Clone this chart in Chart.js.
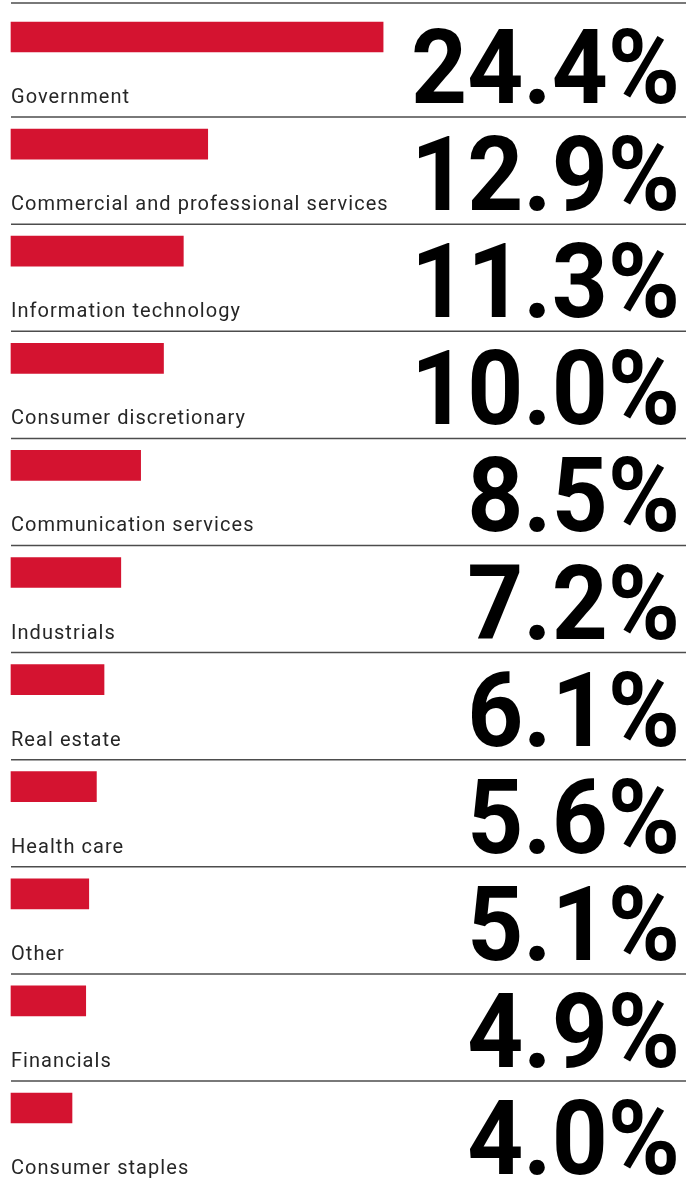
<!DOCTYPE html>
<html>
<head>
<meta charset="utf-8">
<script src="https://cdn.jsdelivr.net/npm/chart.js@4.4.1/dist/chart.umd.min.js"></script>
<style>
  html, body { margin: 0; padding: 0; background: #ffffff; }
  #wrap { width: 691px; height: 1192px; }
</style>
</head>
<body>
<div id="wrap"><canvas id="chart" width="691" height="1192"></canvas></div>
<script>
// Sector shares, largest first
const sectors = [
  'Government',
  'Commercial and professional services',
  'Information technology',
  'Consumer discretionary',
  'Communication services',
  'Industrials',
  'Real estate',
  'Health care',
  'Other',
  'Financials',
  'Consumer staples'
];
const shares = [24.4, 12.9, 11.3, 10.0, 8.5, 7.2, 6.1, 5.6, 5.1, 4.9, 4.0];

const RED = '#d41330';
const LABEL_FONT = '400 20px Roboto, "Liberation Sans", sans-serif';
const LABEL_SPACING = '1.05px';
const VALUE_FONT = 'bold 104px Roboto, "Liberation Sans", sans-serif';
const VALUE_STRETCH = 0.94;

// Rules, category names and big percentage figures for each row
const rowDecor = {
  id: 'rowDecor',
  afterDatasetsDraw(chart) {
    const ctx = chart.ctx;
    const y = chart.scales.y;
    const n = chart.data.labels.length;
    ctx.save();
    for (let i = 0; i < n; i++) {
      const yc = y.getPixelForValue(i);
      const ruleY = i === 0 ? yc - 34 : yc - 27;
      ctx.strokeStyle = '#4d4d4d';
      ctx.lineWidth = 1.5;
      ctx.beginPath();
      ctx.moveTo(11, ruleY);
      ctx.lineTo(686, ruleY);
      ctx.stroke();

      ctx.save();
      ctx.fillStyle = '#262626';
      ctx.font = LABEL_FONT;
      ctx.letterSpacing = LABEL_SPACING;
      ctx.textAlign = 'left';
      ctx.textBaseline = 'alphabetic';
      ctx.fillText(chart.data.labels[i], 11, yc + 66);
      ctx.restore();

      const v = chart.data.datasets[0].data[i];
      ctx.save();
      ctx.font = VALUE_FONT;
      ctx.fillStyle = '#000000';
      ctx.textAlign = 'right';
      ctx.textBaseline = 'alphabetic';
      ctx.translate(680, yc + 66);
      ctx.scale(VALUE_STRETCH, 1);
      ctx.fillText(v.toFixed(1) + '%', 0, 0);
      ctx.restore();
    }
    ctx.restore();
  }
};

new Chart(document.getElementById('chart'), {
  type: 'bar',
  data: {
    labels: sectors,
    datasets: [{
      data: shares,
      backgroundColor: RED,
      borderWidth: 0,
      barThickness: 30,
      clip: false
    }]
  },
  options: {
    indexAxis: 'y',
    responsive: false,
    animation: false,
    layout: { padding: { top: 37, bottom: 84, left: 11, right: 9 } },
    plugins: { legend: { display: false }, tooltip: { enabled: false } },
    scales: {
      x: { display: false, min: 0, max: 44 },
      y: { display: false, offset: false }
    }
  },
  plugins: [rowDecor]
});
</script>
</body>
</html>
